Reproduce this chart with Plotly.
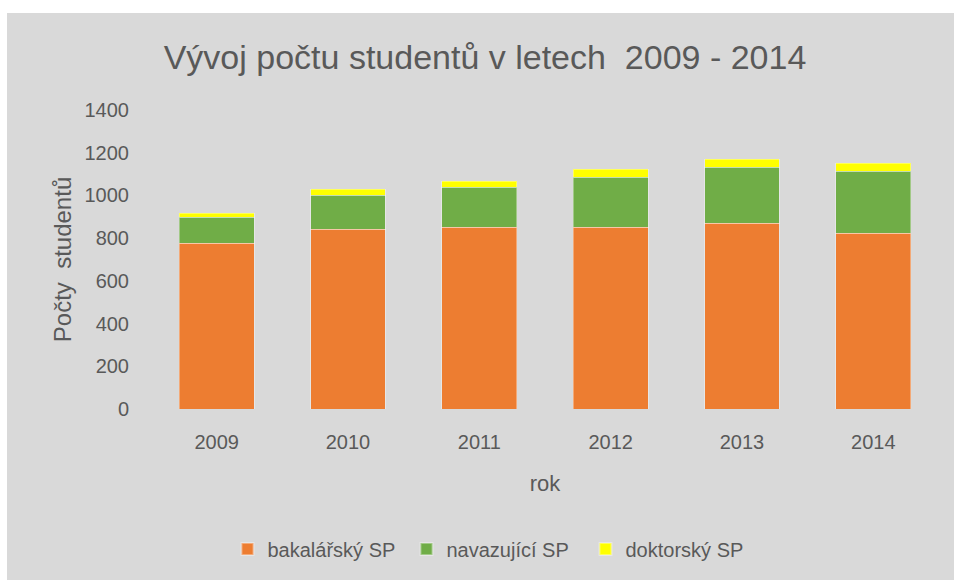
import plotly.graph_objects as go

years = ["2009", "2010", "2011", "2012", "2013", "2014"]
bakalarsky = [776, 842, 851, 851, 870, 823]
navazujici = [123, 159, 187, 234, 262, 290]
doktorsky = [18, 28, 28, 37, 37, 38]
y_ticks = [0, 200, 400, 600, 800, 1000, 1200, 1400]

FONT = "Liberation Sans"
TXT = "#595959"
BG = "#d9d9d9"

W, H = 954, 580
L, R, T, B = 151, 15, 110, 171
PW, PH = W - L - R, H - T - B

fig = go.Figure()
line = dict(width=1, color="rgba(255,255,255,0.35)")
fig.add_trace(go.Bar(x=years, y=bakalarsky, name="bakalářský SP",
                     marker=dict(color="#ED7D31", line=line)))
fig.add_trace(go.Bar(x=years, y=navazujici, name="navazující SP",
                     marker=dict(color="#70AD47", line=line)))
fig.add_trace(go.Bar(x=years, y=doktorsky, name="doktorský SP",
                     marker=dict(color="#FFFF00", line=line)))

fig.update_layout(
    width=W, height=H,
    barmode="stack", bargap=0.43,
    paper_bgcolor="white", plot_bgcolor=BG,
    margin=dict(l=L, r=R, t=T, b=B, autoexpand=False),
    font=dict(family=FONT, color=TXT, size=20),
    title=dict(text="Vývoj počtu studentů v letech  2009 - 2014",
               x=485 / W, xanchor="center", xref="container",
               y=1 - 57 / H, yanchor="middle", yref="container",
               font=dict(size=34, color=TXT, family=FONT)),
    xaxis=dict(showgrid=False, zeroline=False, showline=False,
               ticks="", ticklabelstandoff=19,
               tickfont=dict(size=20, color=TXT),
               title=dict(text="rok", standoff=23, font=dict(size=22, color=TXT))),
    yaxis=dict(range=[0, 1400], tickvals=y_ticks, showgrid=False, zeroline=False,
               showline=False, ticks="", ticklabelstandoff=21,
               tickfont=dict(size=20, color=TXT),
               title=dict(text="Počty  studentů", standoff=6,
                          font=dict(size=24, color=TXT))),
    legend=dict(orientation="h", x=496 / W, xanchor="center", xref="container",
                y=1 - 549 / H, yanchor="middle", yref="container",
                font=dict(size=20, color=TXT), bgcolor="rgba(0,0,0,0)",
                traceorder="normal", itemsizing="constant",
                entrywidth=134, entrywidthmode="pixels"),
    shapes=[dict(type="rect", xref="paper", yref="paper",
                 x0=(7 - L) / PW, x1=(W - L) / PW + 0.01,
                 y0=-B / PH - 0.01, y1=(PH + T - 13) / PH,
                 fillcolor=BG, line=dict(width=0), layer="below")],
)

fig.write_html("out.html", config={"displayModeBar": False},
               post_script="document.body.style.margin='0';")
